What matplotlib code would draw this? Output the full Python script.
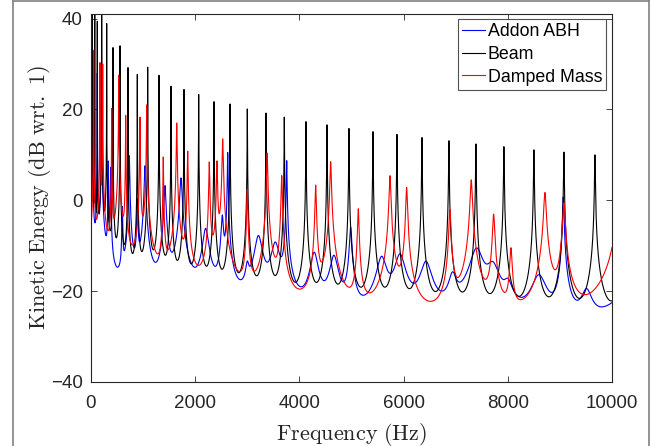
import numpy as np
import matplotlib
matplotlib.use("Agg")
import matplotlib.pyplot as plt
from matplotlib.lines import Line2D

# Resonance peaks: frequency (Hz), peak level (dB), loss factor
beam_freq = [25, 72, 121, 205, 301, 422, 557, 710, 889, 1088, 1305, 1535, 1785, 2067, 2361, 2668,
             3000, 3359, 3710, 4126, 4529, 4951, 5412, 5872, 6352, 6870, 7388, 7925, 8501, 9077, 9672, 10290]
beam_level = [46, 42, 39.4, 45, 38.9, 33.6, 34.0, 29.2, 27.7, 29.3, 27.5, 25.1, 24.4, 23.3, 21.7, 21.2,
              20.1, 19.2, 18.3, 17.3, 16.6, 15.8, 15.1, 14.5, 13.8, 13.1, 12.4, 11.8, 11.1, 10.6, 10.0, 9.4]
beam_loss = [0.008, 0.0022, 0.0019, 0.0017, 0.0015, 0.0014, 0.0013, 0.0013, 0.0013, 0.0013, 0.0013, 0.0012,
             0.0012, 0.0012, 0.0012, 0.0011, 0.0011, 0.0011, 0.0011, 0.00105, 0.00105, 0.00105, 0.00105,
             0.00105, 0.00105, 0.00105, 0.00105, 0.00105, 0.00105, 0.00105, 0.00105, 0.00105]

mass_freq = [50, 173, 225, 397, 532, 666, 940, 1069, 1387, 1645, 1856, 2270, 2418, 2527, 2999,
             3381, 3660, 4312, 4600, 5130, 5738, 6058, 6889, 7298, 7728, 8060, 8713, 9077, 10150]
mass_level = [33, 30.3, 30, 20.2, 27.5, 18.7, 18.3, 21.0, 9.5, 17.0, 10.8, 8.4, 8.6, 13.5, 2.3,
              10.4, 5.4, 3.3, 8.5, -1.9, 5.4, 2.8, -2.1, 4.5, -3.1, -10.7, 1.7, -0.6, 6]
mass_loss = [0.02, 0.009, 0.008, 0.0075, 0.007, 0.0065, 0.0062, 0.006, 0.006, 0.006, 0.006, 0.006, 0.006,
             0.006, 0.0055, 0.005, 0.005, 0.0045, 0.0045, 0.0045, 0.0045, 0.0042, 0.0045, 0.0045, 0.0045,
             0.0045, 0.0045, 0.0045, 0.0045]

abh_freq = [25, 121, 205, 332, 378, 601, 735, 889, 1036, 1420, 1727, 2201, 2520, 2624, 3000, 3214,
            3537, 3756, 4285, 4663, 4984, 5579, 5930, 6429, 6941, 7402, 7709, 8002, 8597, 9064, 9512, 10500]
abh_level = [34.7, 28, 28, 8.6, 7.2, -1.6, 9.8, 0.1, 7.6, 3.2, 4.9, -6.4, -3.6, 10.5, -16, -8,
             -9.7, 8.7, -11.8, -12.5, -6, -12.8, -12.2, -13.9, -17.3, -10.8, -14.8, -20, -17, 0.7, -20.9, -18]
abh_loss = [0.03, 0.01, 0.01, 0.02, 0.02, 0.02, 0.018, 0.018, 0.022, 0.022, 0.022, 0.045, 0.015, 0.004, 0.02,
            0.04, 0.04, 0.003, 0.03, 0.03, 0.008, 0.03, 0.03, 0.03, 0.02, 0.03, 0.03, 0.02, 0.03, 0.0025,
            0.02, 0.06]


# Sum of single-mode responses -> kinetic energy in dB
def modal_curve(f, freqs, levels, losses):
    energy = np.zeros_like(f)
    for fn, lv, eta in zip(freqs, levels, losses):
        w = eta * fn / 2
        energy += 10 ** (lv / 10) / (1 + ((f - fn) / w) ** 2)
    return 10 * np.log10(energy)


freq = np.unique(np.concatenate([np.linspace(1, 10000, 40000), beam_freq, mass_freq, abh_freq]))
freq = freq[freq <= 10000]

plt.rcParams['font.family'] = ['Liberation Sans', 'DejaVu Sans']
plt.rcParams['mathtext.fontset'] = 'cm'

fig = plt.figure(figsize=(6.51, 4.46), dpi=100)
ax = fig.add_axes([91 / 651, (446 - 382) / 446, (612 - 91) / 651, (382 - 14) / 446])

ax.plot(freq, modal_curve(freq, abh_freq, abh_level, abh_loss), color='#0000ff', lw=0.8, label='Addon ABH')
ax.plot(freq, modal_curve(freq, beam_freq, beam_level, beam_loss), color='black', lw=0.8, label='Beam')
ax.plot(freq, modal_curve(freq, mass_freq, mass_level, mass_loss), color='#ff0000', lw=0.8, label='Damped Mass')

ax.set_xlim(0, 10000)
ax.set_ylim(-40, 41)
ax.set_xticks([0, 2000, 4000, 6000, 8000, 10000])
ax.set_yticks([-40, -20, 0, 20, 40])
ax.tick_params(direction='in', length=4, width=0.6, top=True, right=True, labelsize=13.5, colors='#262626')
ax.tick_params(axis='x', pad=9)
ax.tick_params(axis='y', pad=6)
for s in ax.spines.values():
    s.set_linewidth(0.8)
    s.set_color('#262626')

ax.set_xlabel(r'$\mathrm{Frequency\ (Hz)}$', fontsize=16, va='center', color='#262626')
ax.xaxis.set_label_coords(0.5, -52 / 368)
ax.set_ylabel(r'$\mathrm{Kinetic\ Energy\ (dB\ wrt.\ 1)}$', fontsize=16, va='center', color='#262626')
ax.yaxis.set_label_coords(-51 / 521, 0.5)

leg = ax.legend(loc='upper right', bbox_to_anchor=(1 - 6 / 521, 1 - 5 / 368), borderaxespad=0,
                fancybox=False, edgecolor='#262626', fontsize=12.8, handlelength=1.3,
                handletextpad=0.15, labelspacing=0.33, borderpad=0.22)
leg.get_frame().set_linewidth(0.8)

# grey outer frame of the figure window
for xs, ys in [((13 / 651, 13 / 651), (0, 1 - 1 / 446)), ((13 / 651, 649 / 651), (1 - 1 / 446, 1 - 1 / 446)),
               ((649 / 651, 649 / 651), (0, 1 - 1 / 446))]:
    fig.add_artist(Line2D(xs, ys, transform=fig.transFigure, color='#808080', lw=1.2))

fig.savefig('out.png', dpi=100)
